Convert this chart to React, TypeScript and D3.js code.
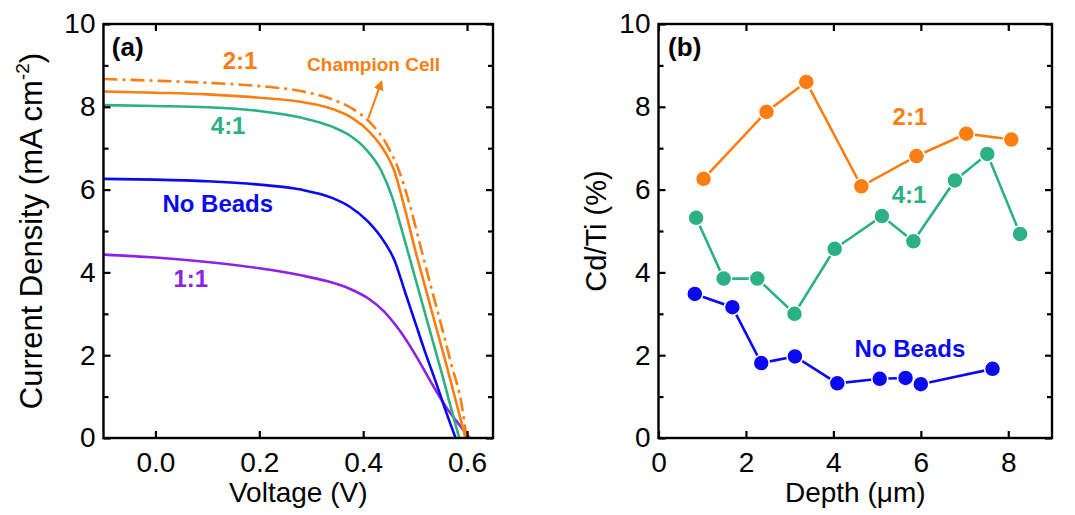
import React, { useEffect, useRef } from "react";
import * as d3 from "d3";

const width = 1075;
const height = 515;
const FONT = "'Liberation Sans', Arial, Helvetica, sans-serif";

// colours
const ORANGE = "#fb7e12";
const GREEN = "#2bb184";
const BLUE = "#0a0af2";
const PURPLE = "#8a22e8";

// panel (a): J-V curves, [voltage V, current density mA cm-2]
const jvChampion = [[-0.1, 8.67], [0, 8.63], [0.1, 8.58], [0.2, 8.5], [0.28, 8.38], [0.34, 8.18], [0.38, 7.95], [0.415, 7.6], [0.445, 7.1], [0.47, 6.42], [0.49, 5.62], [0.51, 4.65], [0.53, 3.68], [0.55, 2.74], [0.57, 1.77], [0.59, 0.78], [0.599, 0]];
const jv21 = [[-0.1, 8.37], [0, 8.34], [0.1, 8.3], [0.2, 8.22], [0.28, 8.12], [0.34, 7.95], [0.38, 7.72], [0.41, 7.42], [0.44, 6.95], [0.46, 6.45], [0.48, 5.55], [0.5, 4.55], [0.52, 3.62], [0.54, 2.7], [0.56, 1.78], [0.58, 0.82], [0.597, 0]];
const jv41 = [[-0.1, 8.04], [0, 8.02], [0.1, 7.99], [0.2, 7.9], [0.28, 7.74], [0.34, 7.52], [0.375, 7.3], [0.405, 6.98], [0.435, 6.45], [0.455, 5.85], [0.475, 5.0], [0.495, 4.1], [0.515, 3.2], [0.535, 2.3], [0.555, 1.4], [0.575, 0.45], [0.585, 0]];
const jvNoBeads = [[-0.1, 6.26], [0, 6.24], [0.1, 6.2], [0.2, 6.12], [0.28, 6.0], [0.34, 5.8], [0.375, 5.58], [0.41, 5.22], [0.44, 4.75], [0.46, 4.3], [0.48, 3.55], [0.5, 2.8], [0.52, 2.05], [0.54, 1.35], [0.56, 0.62], [0.578, 0]];
const jv11 = [[-0.1, 4.43], [0, 4.36], [0.1, 4.25], [0.2, 4.1], [0.28, 3.93], [0.33, 3.79], [0.375, 3.6], [0.41, 3.37], [0.44, 3.06], [0.47, 2.6], [0.5, 2.02], [0.53, 1.36], [0.56, 0.74], [0.585, 0.32], [0.605, 0]];

// panel (b): Cd/Ti vs depth
const depth21 = [1.03, 2.47, 3.38, 4.64, 5.9, 7.04, 8.07];
const cdti21 = [6.26, 7.88, 8.6, 6.08, 6.81, 7.35, 7.21];
const depth41 = [0.86, 1.49, 2.26, 3.11, 4.03, 5.11, 5.83, 6.78, 7.52, 8.27];
const cdti41 = [5.32, 3.85, 3.85, 3.0, 4.57, 5.36, 4.75, 6.22, 6.86, 4.93];
const depthNoBeads = [0.83, 1.69, 2.35, 3.12, 4.09, 5.06, 5.65, 6.0, 7.64];
const cdtiNoBeads = [3.48, 3.16, 1.81, 1.97, 1.32, 1.43, 1.45, 1.3, 1.67];

// ticks
const voltTicks = [0, 0.2, 0.4, 0.6];
const depthTicks = [0, 2, 4, 6, 8];
const yMajor = [0, 2, 4, 6, 8, 10];
const yMinor = [1, 3, 5, 7, 9];

const boxA = { left: 103.5, right: 493, top: 24, bottom: 438 };
const boxB = { left: 658.5, right: 1052, top: 24, bottom: 438 };

const xA = d3.scaleLinear().domain([-0.1, 0.65]).range([boxA.left, boxA.right]);
const yA = d3.scaleLinear().domain([0, 10]).range([boxA.bottom, boxA.top]);
const xB = d3.scaleLinear().domain([0, 9]).range([boxB.left, boxB.right]);
const yB = d3.scaleLinear().domain([0, 10]).range([boxB.bottom, boxB.top]);

function drawAxes(node, x, y, xTicks, xFmt) {
  const g = d3.select(node);
  g.selectAll("*").remove();
  const [x0, x1] = x.range();
  const [y0, y1] = y.range();

  g.append("g").attr("transform", `translate(0,${y0})`)
    .call(d3.axisBottom(x).tickValues(xTicks).tickSize(-7).tickPadding(14).tickFormat(xFmt));
  g.append("g").attr("transform", `translate(0,${y1})`)
    .call(d3.axisTop(x).tickValues(xTicks).tickSize(-7).tickFormat(() => ""));
  g.append("g").attr("transform", `translate(${x0},0)`)
    .call(d3.axisLeft(y).tickValues(yMajor).tickSize(-7).tickPadding(8).tickFormat(d3.format("d")));
  g.append("g").attr("transform", `translate(${x1},0)`)
    .call(d3.axisRight(y).tickValues(yMajor).tickSize(-7).tickFormat(() => ""));
  g.append("g").attr("transform", `translate(${x0},0)`)
    .call(d3.axisLeft(y).tickValues(yMinor).tickSize(-5).tickFormat(() => ""));
  g.append("g").attr("transform", `translate(${x1},0)`)
    .call(d3.axisRight(y).tickValues(yMinor).tickSize(-5).tickFormat(() => ""));

  g.selectAll(".domain").remove();
  g.selectAll("g").attr("font-size", 28).attr("font-family", FONT);
  g.selectAll(".tick line").attr("stroke", "#000").attr("stroke-width", 2.2);
  g.selectAll(".tick text").attr("fill", "#000");

  g.append("rect")
    .attr("x", x0).attr("y", y1).attr("width", x1 - x0).attr("height", y0 - y1)
    .attr("fill", "none").attr("stroke", "#000").attr("stroke-width", 2.4);
}

export default function App() {
  const axA = useRef(null);
  const axB = useRef(null);

  useEffect(() => {
    drawAxes(axA.current, xA, yA, voltTicks, d3.format(".1f"));
    drawAxes(axB.current, xB, yB, depthTicks, d3.format("d"));
  }, []);

  const jvLine = d3.line().x(d => xA(d[0])).y(d => yA(d[1])).curve(d3.curveMonotoneX);
  const cdLine = d3.line().x(d => xB(d[0])).y(d => yB(d[1]));

  const curves = [
    { data: jv11, color: PURPLE, dash: null },
    { data: jvNoBeads, color: BLUE, dash: null },
    { data: jv41, color: GREEN, dash: null },
    { data: jv21, color: ORANGE, dash: null },
    { data: jvChampion, color: ORANGE, dash: "14,5,3,5" },
  ];

  const profiles = [
    { x: depthNoBeads, y: cdtiNoBeads, color: BLUE },
    { x: depth41, y: cdti41, color: GREEN },
    { x: depth21, y: cdti21, color: ORANGE },
  ];

  const lbl = { fontFamily: FONT, fontWeight: "bold" };

  return (
    <svg width={width} height={height} style={{ position: "absolute", left: 0, top: 0, background: "#fff" }}>
      <defs>
        <clipPath id="clipA">
          <rect x={boxA.left} y={boxA.top} width={boxA.right - boxA.left} height={boxA.bottom - boxA.top} />
        </clipPath>
        <marker id="arrowHead" viewBox="0 0 10 10" refX="8" refY="5" markerWidth="5" markerHeight="5" orient="auto">
          <path d="M0,0 L10,5 L0,10 z" fill={ORANGE} />
        </marker>
      </defs>

      {/* panel (a) */}
      <g clipPath="url(#clipA)">
        {curves.map((c, i) => (
          <path key={i} d={jvLine(c.data)} fill="none" stroke={c.color} strokeWidth={2.6}
            strokeDasharray={c.dash || undefined} />
        ))}
      </g>
      <line x1={xA(0.41)} y1={yA(7.72)} x2={xA(0.435)} y2={yA(8.6)} stroke={ORANGE} strokeWidth={2} markerEnd="url(#arrowHead)" />
      <g ref={axA}></g>

      <text x={xA(-0.084)} y={yA(9.23)} fontSize={26} style={lbl}>(a)</text>
      <text x={xA(0.163)} y={yA(8.91)} fontSize={24} textAnchor="middle" fill={ORANGE} style={lbl}>2:1</text>
      <text x={xA(0.292)} y={yA(8.87)} fontSize={19} fill={ORANGE} style={lbl}>Champion Cell</text>
      <text x={xA(0.14)} y={yA(7.34)} fontSize={24} textAnchor="middle" fill={GREEN} style={lbl}>4:1</text>
      <text x={xA(0.12)} y={yA(5.45)} fontSize={24} textAnchor="middle" fill={BLUE} style={lbl}>No Beads</text>
      <text x={xA(0.068)} y={yA(3.65)} fontSize={24} textAnchor="middle" fill={PURPLE} style={lbl}>1:1</text>

      <text transform={`translate(42,${(boxA.top + boxA.bottom) / 2}) rotate(-90)`} textAnchor="middle"
        fontSize={31} fontFamily={FONT}>
        Current Density (mA cm<tspan fontSize={19} dy={-13}>-2</tspan><tspan dy={13}>)</tspan>
      </text>
      <text x={(boxA.left + boxA.right) / 2} y={502} textAnchor="middle" fontSize={28} fontFamily={FONT}>Voltage (V)</text>

      {/* panel (b) */}
      {profiles.map((p, i) => {
        const pts = p.x.map((d, j) => [d, p.y[j]]);
        return (
          <g key={i}>
            <path d={cdLine(pts)} fill="none" stroke={p.color} strokeWidth={2.6} />
            {pts.map((d, j) => (
              <circle key={j} cx={xB(d[0])} cy={yB(d[1])} r={8} fill={p.color} stroke="#fff" strokeWidth={1.5} />
            ))}
          </g>
        );
      })}
      <g ref={axB}></g>

      <text x={xB(0.22)} y={yB(9.23)} fontSize={26} style={lbl}>(b)</text>
      <text x={xB(5.75)} y={yB(7.56)} fontSize={24} textAnchor="middle" fill={ORANGE} style={lbl}>2:1</text>
      <text x={xB(5.73)} y={yB(5.68)} fontSize={24} textAnchor="middle" fill={GREEN} style={lbl}>4:1</text>
      <text x={xB(5.75)} y={yB(1.96)} fontSize={24} textAnchor="middle" fill={BLUE} style={lbl}>No Beads</text>

      <text transform={`translate(606,${(boxB.top + boxB.bottom) / 2}) rotate(-90)`} textAnchor="middle"
        fontSize={29} fontFamily={FONT}>Cd/Ti (%)</text>
      <text x={(boxB.left + boxB.right) / 2} y={502} textAnchor="middle" fontSize={28} fontFamily={FONT}>Depth (μm)</text>
    </svg>
  );
}
